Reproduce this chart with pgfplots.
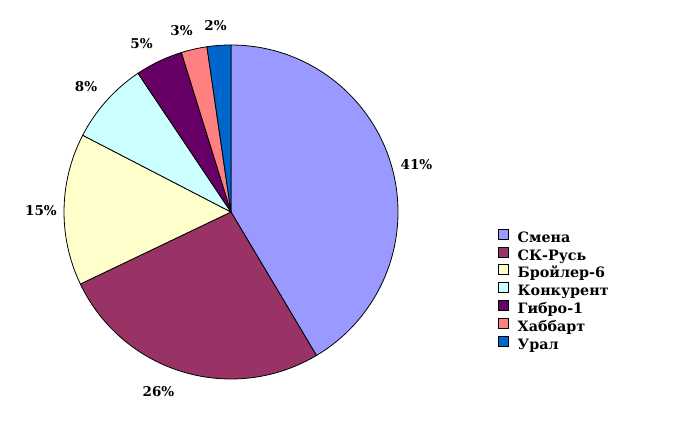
\documentclass[border=0pt]{standalone}
\usepackage{fontspec}
\setmainfont{DejaVu Serif}
\usepackage{pgfplots}
\pgfplotsset{compat=1.18}

\definecolor{cSmena}{HTML}{9999FF}
\definecolor{cSKRus}{HTML}{993366}
\definecolor{cBroiler}{HTML}{FFFFCC}
\definecolor{cKonk}{HTML}{CCFFFF}
\definecolor{cGibro}{HTML}{660066}
\definecolor{cHabb}{HTML}{FF8080}
\definecolor{cUral}{HTML}{0066CC}

% #1 = cumulative share before the slice (%), #2 = share (%), #3 = colour
\newcommand{\slice}[3]{%
  \filldraw[fill=#3, draw=black, line width=0.8pt]
    (axis cs:231,211) -- (axis cs:{231+167*cos(90-3.6*#1)},{211+167*sin(90-3.6*#1)})
    arc[start angle={90-3.6*#1}, delta angle={-3.6*#2}, radius=167pt] -- cycle;}

\begin{document}
\begin{tikzpicture}
\begin{axis}[
    x=1pt, y=1pt,
    xmin=0, xmax=697, ymin=0, ymax=423,
    hide axis, clip=false,
    legend style={at={(axis cs:498,194.3)}, anchor=north west, draw=none, fill=none,
        inner xsep=0pt, inner ysep=0pt,
        font=\bfseries\fontsize{14.3}{14.3}\selectfont, row sep=1.3pt,
        nodes={inner sep=0pt, text height=10pt, text depth=3pt}},
    legend cell align=left,
    legend image code/.code={%
        \path[draw=none, fill=none, use as bounding box] (0pt,-3pt) rectangle (19.5pt,10pt);
        \draw[#1, line width=0.6pt] (0pt,-0.3pt) rectangle (10pt,9.7pt);},
]
\path (axis cs:0,0) (axis cs:697,423);

% shares in %, clockwise from 12 o'clock
\slice{0}{41.45}{cSmena}
\slice{41.45}{26.45}{cSKRus}
\slice{67.9}{14.7}{cBroiler}
\slice{82.6}{8.0}{cKonk}
\slice{90.6}{4.6}{cGibro}
\slice{95.2}{2.5}{cHabb}
\slice{97.7}{2.3}{cUral}

\begin{scope}[font=\bfseries\fontsize{13.5}{13.5}\selectfont]
\node at (axis cs:416.5,258) {41\%};
\node at (axis cs:158.5,31) {26\%};
\node at (axis cs:41,212.5) {15\%};
\node at (axis cs:86,336) {8\%};
\node at (axis cs:141.5,379.5) {5\%};
\node at (axis cs:181.5,392) {3\%};
\node at (axis cs:215.5,397) {2\%};
\end{scope}

\addlegendimage{fill=cSmena, draw=black}
\addlegendentry{Смена}
\addlegendimage{fill=cSKRus, draw=black}
\addlegendentry{СК-Русь}
\addlegendimage{fill=cBroiler, draw=black}
\addlegendentry{Бройлер-6}
\addlegendimage{fill=cKonk, draw=black}
\addlegendentry{Конкурент}
\addlegendimage{fill=cGibro, draw=black}
\addlegendentry{Гибро-1}
\addlegendimage{fill=cHabb, draw=black}
\addlegendentry{Хаббарт}
\addlegendimage{fill=cUral, draw=black}
\addlegendentry{Урал}
\end{axis}
\end{tikzpicture}
\end{document}
